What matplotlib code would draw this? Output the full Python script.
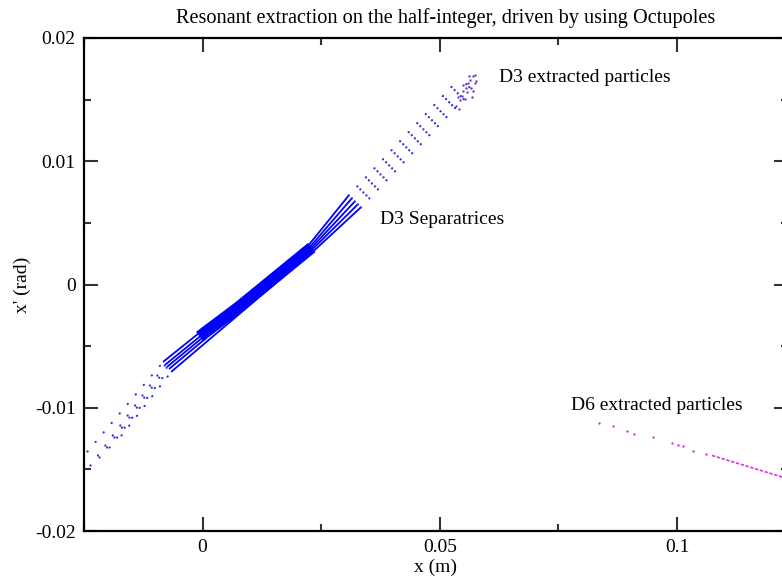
import matplotlib
matplotlib.use('Agg')
import matplotlib.pyplot as plt
from matplotlib.ticker import MultipleLocator, FixedFormatter, FixedLocator

plt.rcParams['font.family'] = ['Liberation Serif', 'DejaVu Serif']

# D3 separatrices: 5 strands, each with 5 vertices
# (outer low end, low transition, upper end of core, high transition, outer high end)
sep_x = [
    [-0.02426, -0.00823, 0.02247, 0.03080, 0.05316],
    [-0.02363, -0.00781, 0.02278, 0.03143, 0.05464],
    [-0.02173, -0.00738, 0.02300, 0.03207, 0.05633],
    [-0.01962, -0.00696, 0.02321, 0.03270, 0.05675],
    [-0.01709, -0.00654, 0.02352, 0.03333, 0.05633],
]
sep_y = [
    [-0.01355, -0.00625, 0.00325, 0.00722, 0.01631],
    [-0.01469, -0.00649, 0.00312, 0.00698, 0.01639],
    [-0.01404, -0.00665, 0.00300, 0.00673, 0.01655],
    [-0.01323, -0.00682, 0.00288, 0.00649, 0.01623],
    [-0.01225, -0.00706, 0.00276, 0.00625, 0.01558],
]

# dense core of the separatrices near the origin
core_x = [-0.00063, 0.00781, 0.02300]
core_y = [-0.00422, -0.00178, 0.00300]

# D3 extracted particles (cluster at top of the separatrices)
d3_x = [0.05633, 0.05696, 0.05738, 0.05591, 0.05549, 0.05485, 0.05654, 0.05570,
        0.05464, 0.05696, 0.05738, 0.05422, 0.05380, 0.05527, 0.05675, 0.05759,
        0.05612, 0.05485, 0.05338, 0.05401]
d3_y = [0.01663, 0.01688, 0.01696, 0.01631, 0.01598, 0.01615, 0.01598, 0.01558,
        0.01533, 0.01574, 0.01631, 0.01493, 0.01525, 0.01509, 0.01525, 0.01655,
        0.01688, 0.01566, 0.01452, 0.01420]

# D6 extracted particles
d6_x = [0.08354, 0.08650, 0.08945, 0.09093, 0.09494, 0.09895, 0.10021, 0.10127,
        0.10338, 0.10612]
d6_y = [-0.01120, -0.01152, -0.01185, -0.01209, -0.01241, -0.01290, -0.01306,
        -0.01314, -0.01347, -0.01379]
d6_dense_x = [0.10738, 0.12384]
d6_dense_y = [-0.01387, -0.01582]

xticks = [0, 0.05, 0.1]
xtick_labels = ['0', '0.05', '0.1']
yticks = [-0.02, -0.01, 0, 0.01, 0.02]
ytick_labels = ['-0.02', '-0.01', '0', '0.01', '0.02']

fig = plt.figure(figsize=(7.82, 5.82), dpi=100)
ax = fig.add_axes([84 / 782, 51 / 582, 704 / 782, 493 / 582])
ax.set_xlim(-0.025, 0.1234)
ax.set_ylim(-0.02, 0.02)

blue = '#0000ff'
dots = '#3030e0'
for xs, ys in zip(sep_x, sep_y):
    # thin lines where the tracking points are dense
    ax.plot(xs[1:4], ys[1:4], color=blue, lw=1.3, solid_capstyle='round')
    # sparse tracking points at both ends
    ax.plot(xs[0:2], ys[0:2], color=dots, lw=1.6, linestyle=(0, (0.1, 5.5)),
            dash_capstyle='round')
    ax.plot(xs[3:5], ys[3:5], color=dots, lw=1.6, linestyle=(0, (0.1, 5.5)),
            dash_capstyle='round')
ax.plot(core_x, core_y, color=blue, lw=8.5, solid_capstyle='butt')

ax.scatter(d3_x, d3_y, s=3, color='#7a3cc8', linewidths=0)
ax.scatter(d6_x, d6_y, s=3, color='#e030e0', linewidths=0)
ax.plot(d6_dense_x, d6_dense_y, color='#e030e0', lw=1.2, linestyle=(0, (2, 1)))

ax.text(0.06245, 0.0168, 'D3 extracted particles', fontsize=14, va='center')
ax.text(0.03734, 0.00527, 'D3 Separatrices', fontsize=14, va='center')
ax.text(0.07764, -0.00982, 'D6 extracted particles', fontsize=14, va='center')

ax.xaxis.set_major_locator(FixedLocator(xticks))
ax.xaxis.set_major_formatter(FixedFormatter(xtick_labels))
ax.xaxis.set_minor_locator(MultipleLocator(0.025))
ax.yaxis.set_major_locator(FixedLocator(yticks))
ax.yaxis.set_major_formatter(FixedFormatter(ytick_labels))
ax.yaxis.set_minor_locator(MultipleLocator(0.005))
ax.tick_params(which='both', direction='in', top=True, right=True, labelsize=14,
               width=1.5, color='#333333', pad=6)
ax.tick_params(which='major', length=10)
ax.tick_params(which='minor', length=5)
for s in ax.spines.values():
    s.set_linewidth(1.6)

ax.set_xlabel('x (m)', fontsize=14, labelpad=2)
ax.set_ylabel("x' (rad)", fontsize=14, labelpad=3)
fig.text(446 / 782, 1 - 18 / 582, 'Resonant extraction on the half-integer, driven by using Octupoles',
         fontsize=14.6, ha='center', va='center')

fig.savefig('out.png', dpi=100)
